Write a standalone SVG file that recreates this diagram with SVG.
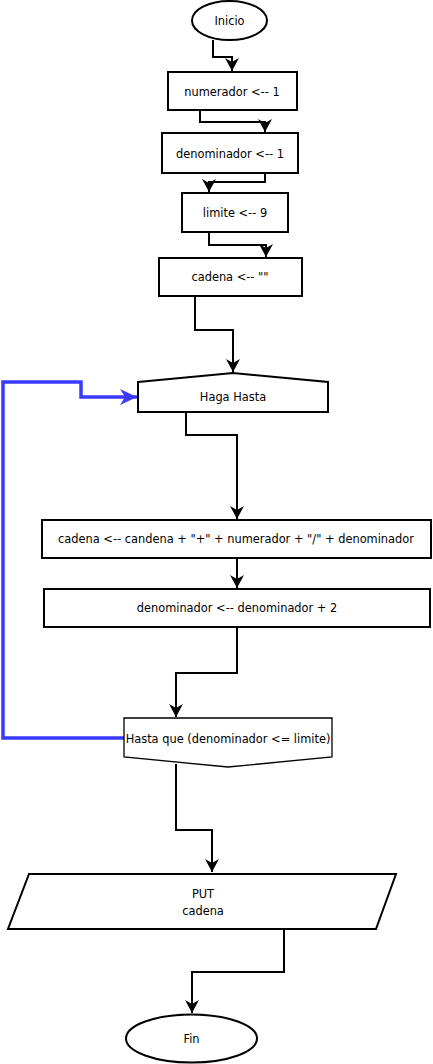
<svg xmlns="http://www.w3.org/2000/svg" width="433" height="1064" viewBox="0 0 433 1064">
<style>
.s{fill:#fff;stroke:#000;stroke-width:2}
.t{font-family:"DejaVu Sans",Verdana,sans-serif;font-size:11.4px;fill:#000;text-anchor:middle;dominant-baseline:central}
.c{fill:none;stroke:#000;stroke-width:2}
.b{fill:none;stroke:#3a3aff;stroke-width:3.5}
</style>
<defs>
<marker id="a" markerUnits="userSpaceOnUse" markerWidth="16" markerHeight="16" refX="13" refY="8" orient="auto" viewBox="0 0 16 16">
<path d="M0,1 L13,8 L0,15 L4,8 z" fill="#000"/>
</marker>
<marker id="ab" markerUnits="userSpaceOnUse" markerWidth="18" markerHeight="18" refX="17" refY="9" orient="auto" viewBox="0 0 18 18">
<path d="M0,1 L17,9 L0,17 L5,9 z" fill="#3a3aff"/>
</marker>
</defs>
<g id="connectors">
<path class="c" d="M213,40 V57 H232 V71" marker-end="url(#a)"/>
<path class="c" d="M200,110 V122 H265 V132" marker-end="url(#a)"/>
<path class="c" d="M265,173 V182 H209 V192" marker-end="url(#a)"/>
<path class="c" d="M209,232 V245 H266 V257" marker-end="url(#a)"/>
<path class="c" d="M195,296 V330 H233 V372" marker-end="url(#a)"/>
<path class="c" d="M186,412 V435 H237 V519" marker-end="url(#a)"/>
<path class="c" d="M237,558 V588" marker-end="url(#a)"/>
<path class="c" d="M237,627 V673 H176 V717" marker-end="url(#a)"/>
<path class="c" d="M176,764 V830 H212 V872" marker-end="url(#a)"/>
<path class="c" d="M284,929 V972 H192 V1013" marker-end="url(#a)"/>
<path class="b" d="M124,738 H3 V382 H81 V397 H137" marker-end="url(#ab)"/>
</g>
<g id="inicio">
<ellipse class="s" cx="229.5" cy="20.5" rx="37.5" ry="19.5"/>
<text class="t" x="229.5" y="21">Inicio</text>
</g>
<g id="numerador">
<rect class="s" x="168" y="72" width="129" height="38"/>
<text class="t" x="232" y="92">numerador &lt;-- 1</text>
</g>
<g id="denominador">
<rect class="s" x="162" y="133" width="136" height="40"/>
<text class="t" x="230" y="154">denominador &lt;-- 1</text>
</g>
<g id="limite">
<rect class="s" x="182" y="193" width="106" height="39"/>
<text class="t" x="235" y="213">limite &lt;-- 9</text>
</g>
<g id="cadena">
<rect class="s" x="159" y="258" width="143" height="38"/>
<text class="t" x="230" y="277">cadena &lt;-- ""</text>
</g>
<g id="haga">
<polygon class="s" points="138,382 233,373 328,382 328,412 138,412"/>
<text class="t" x="233" y="397">Haga Hasta</text>
</g>
<g id="concat">
<rect class="s" x="42" y="520" width="389" height="38"/>
<text class="t" x="236" y="539">cadena &lt;-- candena + "+" + numerador + "/" + denominador</text>
</g>
<g id="incremento">
<rect class="s" x="44" y="589" width="386" height="38"/>
<text class="t" x="237" y="608">denominador &lt;-- denominador + 2</text>
</g>
<g id="hasta">
<polygon class="s" style="stroke-width:1.3" points="124,718 332,718 332,757 228,767 124,757"/>
<text class="t" x="228" y="739">Hasta que (denominador &lt;= limite)</text>
</g>
<g id="put">
<polygon class="s" points="29,874 396,874 376,929 8,929"/>
<text class="t" x="203" y="894">PUT</text>
<text class="t" x="203" y="911">cadena</text>
</g>
<g id="fin">
<ellipse class="s" cx="191.5" cy="1038.5" rx="65.5" ry="24"/>
<text class="t" x="191.5" y="1039">Fin</text>
</g>
</svg>
